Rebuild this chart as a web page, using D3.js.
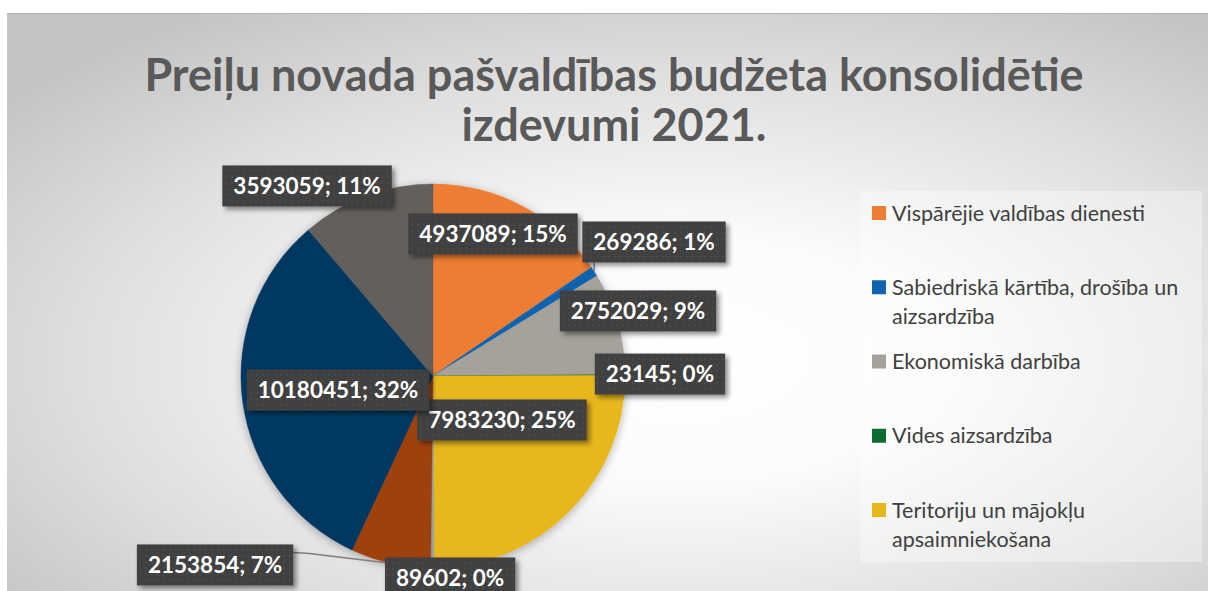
<!DOCTYPE html>
<head>
  <meta charset="utf-8">
  <script src="https://cdn.jsdelivr.net/npm/d3@7"></script>
  <style>
    body { margin: 0; background: white; }
    text { font-family: Lato, "Open Sans", sans-serif; }
  </style>
</head>

<body>
  <script>
const W = 1208;
const H = 591;

// data
const categories = [
  "Vispārējie valdības dienesti",
  "Sabiedriskā kārtība, drošība un aizsardzība",
  "Ekonomiskā darbība",
  "Vides aizsardzība",
  "Teritoriju un mājokļu apsaimniekošana",
  "Veselība",
  "Atpūta, kultūra un reliģija",
  "Izglītība",
  "Sociālā aizsardzība"
];
const values = [4937089, 269286, 2752029, 23145, 7983230, 89602, 2153854, 10180451, 3593059];
const percents = ["15%", "1%", "9%", "0%", "25%", "0%", "7%", "32%", "11%"];
const colors = ["#ED7D31", "#0F63B0", "#A5A29C", "#0E6B30", "#E8B71A", "#93A3AD", "#9E430F", "#063762", "#635F5A"];
const titleLines = ["Preiļu novada pašvaldības budžeta konsolidētie", "izdevumi 2021."];
const legendShown = 5; // the legend is cut off after five entries

// layout
const cx = 433, cy = 376, R = 192;
// label centres relative to pie centre, in radius units (Excel "best fit")
const labelPos = [
  [0.3125, -0.740], [1.151, -0.698], [1.068, -0.339], [1.182, -0.010],
  [0.359, 0.229], [0.089, 1.052], [-1.135, 0.984], [-0.495, 0.073], [-0.656, -0.990]
];
const leader = [false, true, false, false, false, false, true, false, false];

var svg = d3.select("body").append("svg")
  .attr("width", W)
  .attr("height", H);

var defs = svg.append("defs");

var bg = defs.append("radialGradient")
  .attr("id", "bg")
  .attr("cx", 0.56).attr("cy", 0.6).attr("r", 0.72);
bg.append("stop").attr("offset", 0).attr("stop-color", "#ffffff");
bg.append("stop").attr("offset", 0.3).attr("stop-color", "#fbfbfb");
bg.append("stop").attr("offset", 0.7).attr("stop-color", "#dedede");
bg.append("stop").attr("offset", 1).attr("stop-color", "#c4c4c4");

var dots = defs.append("pattern")
  .attr("id", "dots")
  .attr("patternUnits", "userSpaceOnUse")
  .attr("width", 6).attr("height", 6);
dots.append("rect").attr("width", 6).attr("height", 6).attr("fill", "#404040");
dots.append("circle").attr("cx", 3).attr("cy", 3).attr("r", 0.8).attr("fill", "#575757");

var shadow = defs.append("filter").attr("id", "shadow")
  .attr("x", -0.2).attr("y", -0.2).attr("width", 1.5).attr("height", 1.5);
shadow.append("feDropShadow")
  .attr("dx", 3).attr("dy", 3).attr("stdDeviation", 2.5)
  .attr("flood-color", "#000").attr("flood-opacity", 0.45);

var pieShadow = defs.append("filter").attr("id", "pieShadow")
  .attr("x", -0.2).attr("y", -0.2).attr("width", 1.4).attr("height", 1.4);
pieShadow.append("feDropShadow")
  .attr("dx", 0).attr("dy", 2).attr("stdDeviation", 5)
  .attr("flood-color", "#000").attr("flood-opacity", 0.3);

// chart area
svg.append("rect")
  .attr("x", 7).attr("y", 13)
  .attr("width", W - 7).attr("height", H - 13)
  .attr("fill", "url(#bg)");
svg.append("line")
  .attr("x1", 7).attr("x2", W)
  .attr("y1", 13.5).attr("y2", 13.5)
  .attr("stroke", "#b4b4b4");

// title
svg.append("g").selectAll("text")
  .data(titleLines)
  .join("text")
  .attr("x", 614)
  .attr("y", (d, i) => 91 + i * 50)
  .attr("text-anchor", "middle")
  .attr("font-size", 45)
  .attr("font-weight", "bold")
  .attr("fill", "#595959")
  .text(d => d);

// pie
var pie = d3.pie().sort(null).value(d => d);
var arcs = pie(values);
var arc = d3.arc().innerRadius(0).outerRadius(R);

var g = svg.append("g")
  .attr("transform", "translate(" + cx + "," + cy + ")");

g.append("g")
  .attr("filter", "url(#pieShadow)")
  .selectAll("path")
  .data(arcs)
  .join("path")
  .attr("d", arc)
  .attr("fill", (d, i) => colors[i])
  .attr("stroke", (d, i) => colors[i])
  .attr("stroke-width", 0.5);

// labels
var labelG = g.append("g");
var labels = labelG.selectAll("g")
  .data(arcs)
  .join("g")
  .attr("transform", (d, i) => "translate(" + labelPos[i][0] * R + "," + labelPos[i][1] * R + ")");

labels.append("rect")
  .attr("fill", "url(#dots)")
  .attr("filter", "url(#shadow)");

labels.append("text")
  .attr("text-anchor", "middle")
  .attr("dy", "0.36em")
  .attr("font-size", 22.5)
  .attr("font-weight", "bold")
  .attr("fill", "white")
  .text((d, i) => values[i] + "; " + percents[i]);

var boxRects = [];
labels.each(function(d, i) {
  var t = d3.select(this).select("text").node();
  var w = t.getComputedTextLength() + 22;
  var h = 41;
  d3.select(this).select("rect")
    .attr("x", -w / 2).attr("y", -h / 2)
    .attr("width", w).attr("height", h);
  boxRects[i] = {x: labelPos[i][0] * R - w / 2, y: labelPos[i][1] * R - h / 2, w: w, h: h};
});

// leader lines
var outer = d3.arc().innerRadius(R).outerRadius(R);
arcs.forEach((d, i) => {
  if (!leader[i]) return;
  var p = outer.centroid(d);
  var b = boxRects[i];
  var ex = Math.max(b.x, Math.min(p[0], b.x + b.w));
  var ey = Math.max(b.y, Math.min(p[1], b.y + b.h));
  var pts = [p, [ex, ey]];
  if (ex === b.x + b.w && ey > b.y + 8) {
    // elbow into the side of the box, like Excel does
    ey = b.y + 8;
    pts = [p, [ex + 16, ey + 1], [ex, ey]];
  }
  labelG.insert("path", ":first-child")
    .attr("d", d3.line()(pts))
    .attr("fill", "none")
    .attr("stroke", "#7f7f7f")
    .attr("stroke-width", 1.5);
});

// legend
var legend = svg.append("g");
legend.append("rect")
  .attr("x", 860).attr("y", 191)
  .attr("width", 342).attr("height", 371)
  .attr("fill", "white")
  .attr("fill-opacity", 0.35);

var items = legend.selectAll("g.item")
  .data(categories.slice(0, legendShown))
  .join("g")
  .attr("class", "item")
  .attr("transform", (d, i) => "translate(872," + (213 + i * 74.25) + ")");

items.append("rect")
  .attr("x", 0).attr("y", -7)
  .attr("width", 14).attr("height", 14)
  .attr("fill", (d, i) => colors[i]);

items.each(function(d) {
  var t = d3.select(this).append("text")
    .attr("x", 20)
    .attr("font-size", 21.5)
    .attr("fill", "#404040");
  var words = d.split(" ");
  var line = [];
  var lineNo = 0;
  var tspan = t.append("tspan").attr("x", 20).attr("y", 0).attr("dy", "0.35em");
  words.forEach(w => {
    line.push(w);
    tspan.text(line.join(" "));
    if (tspan.node().getComputedTextLength() > 312 && line.length > 1) {
      line.pop();
      tspan.text(line.join(" "));
      line = [w];
      lineNo++;
      tspan = t.append("tspan").attr("x", 20).attr("y", lineNo * 29).attr("dy", "0.35em").text(w);
    }
  });
});
  </script>
</body>
